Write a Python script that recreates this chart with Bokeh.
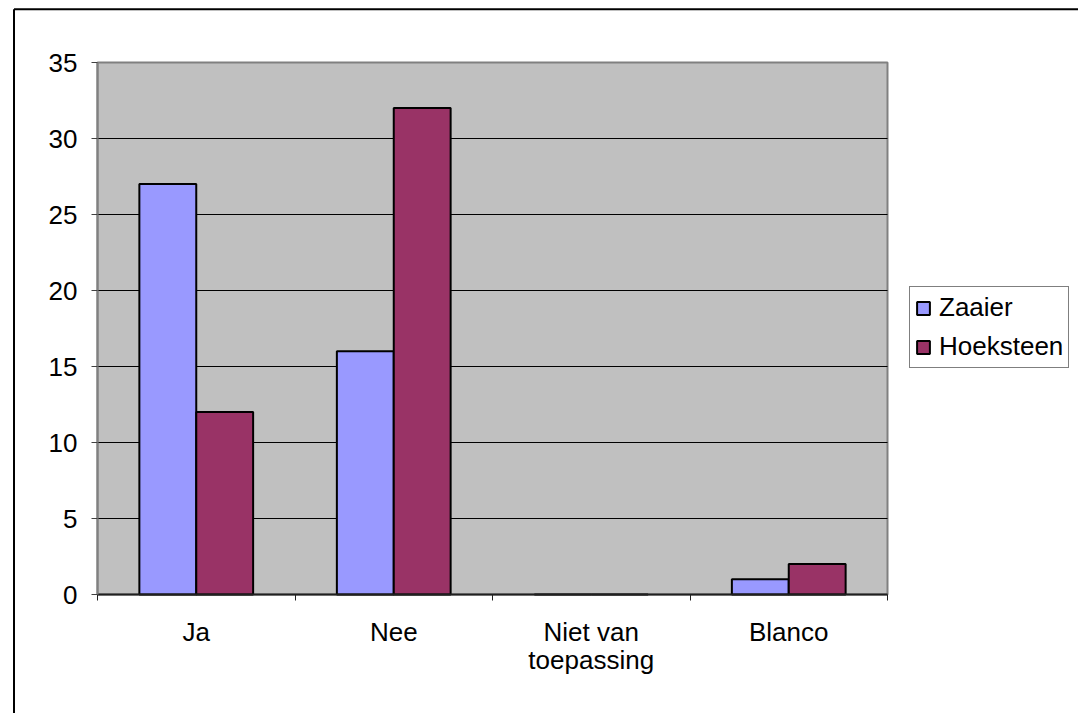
from bokeh.plotting import figure
from bokeh.models import Range1d, FixedTicker, Legend, LegendItem, ColumnDataSource
from bokeh.embed import file_html
from bokeh.resources import INLINE
import numpy as np

categories = ["Ja", "Nee", "Niet van\ntoepassing", "Blanco"]
zaaier = [27, 16, 0, 1]
hoeksteen = [12, 32, 0, 2]
y_ticks = [0, 5, 10, 15, 20, 25, 30, 35]

FONT = "Liberation Sans"
FS = "26px"

# page geometry (pixels)
W, H = 1078, 713
PL, PR, PT, PB = 97, 887, 62, 594       # plot-area box
n = len(categories)
ymax = y_ticks[-1]
sx = (PR - PL) / n                        # px per category
sy = (PB - PT) / ymax                     # px per unit


def dx(px):
    return (px - PL) / sx


def dy(py):
    return (PB - py) / sy


centers = np.arange(n) + 0.5
bw = 0.288

p = figure(width=W, height=H, output_backend="svg", toolbar_location=None,
           x_range=Range1d(dx(0), dx(W)), y_range=Range1d(dy(H), dy(0)),
           min_border=0)

p.background_fill_color = "white"
p.border_fill_color = "white"
p.outline_line_color = None

# outer chart border (top and left, the rest is cut off)
p.segment(x0=[dx(13.5), dx(13.5)], y0=[dy(8.7), dy(8.7)],
          x1=[dx(W + 5), dx(13.5)], y1=[dy(8.7), dy(H + 5)],
          line_color="black", line_width=2)

# plot area (gray)
p.quad(left=[0], right=[n], bottom=[y_ticks[0]], top=[ymax],
       fill_color="#C0C0C0", line_color="#808080", line_width=2)
# horizontal grid lines
gl = y_ticks[1:-1]
p.segment(x0=[0] * len(gl), x1=[n] * len(gl), y0=gl, y1=gl, line_color="black", line_width=1)

src = ColumnDataSource(dict(xz=centers - bw / 2, xh=centers + bw / 2, z=zaaier, h=hoeksteen))
r1 = p.vbar(x="xz", top="z", width=bw, source=src, fill_color="#9999FF", line_color="black", line_width=2)
r2 = p.vbar(x="xh", top="h", width=bw, source=src, fill_color="#993366", line_color="black", line_width=2)

p.xgrid.visible = False
p.ygrid.visible = False

# y axis
p.yaxis.fixed_location = 0
p.yaxis.bounds = (0, ymax)
p.yaxis.ticker = FixedTicker(ticks=y_ticks)
p.yaxis.axis_line_color = "#808080"
p.yaxis.axis_line_width = 2
p.yaxis.major_tick_out = 6
p.yaxis.major_tick_in = 0
p.yaxis.major_tick_line_color = "#404040"
p.yaxis.minor_tick_line_color = None
p.yaxis.major_label_text_font = FONT
p.yaxis.major_label_text_font_size = FS
p.yaxis.major_label_text_color = "black"
p.yaxis.major_label_standoff = 14

# x axis
p.xaxis.fixed_location = 0
p.xaxis.bounds = (0, n)
p.xaxis.ticker = FixedTicker(ticks=list(centers), minor_ticks=list(range(n + 1)))
p.xaxis.major_label_overrides = {float(c): lab for c, lab in zip(centers, categories)}
p.xaxis.axis_line_color = "#202020"
p.xaxis.axis_line_width = 2
p.xaxis.major_tick_out = 0
p.xaxis.major_tick_in = 0
p.xaxis.minor_tick_out = 6
p.xaxis.minor_tick_in = 0
p.xaxis.minor_tick_line_color = "#202020"
p.xaxis.major_label_text_font = FONT
p.xaxis.major_label_text_font_size = FS
p.xaxis.major_label_text_color = "black"
p.xaxis.major_label_text_line_height = 0.95
p.xaxis.major_label_standoff = 16

legend = Legend(items=[LegendItem(label="Zaaier", renderers=[r1]),
                       LegendItem(label="Hoeksteen", renderers=[r2])],
                location=(909, H - 368))
legend.border_line_color = "black"
legend.border_line_width = 1
legend.background_fill_color = "white"
legend.background_fill_alpha = 1
legend.label_text_font = FONT
legend.label_text_font_size = FS
legend.label_text_color = "black"
legend.glyph_width = 16
legend.glyph_height = 16
legend.label_standoff = 8
legend.label_height = 27
legend.padding = 5
legend.spacing = 8
legend.margin = 0
p.add_layout(legend, "center")

open("out.html", "w").write(file_html(p, INLINE))
